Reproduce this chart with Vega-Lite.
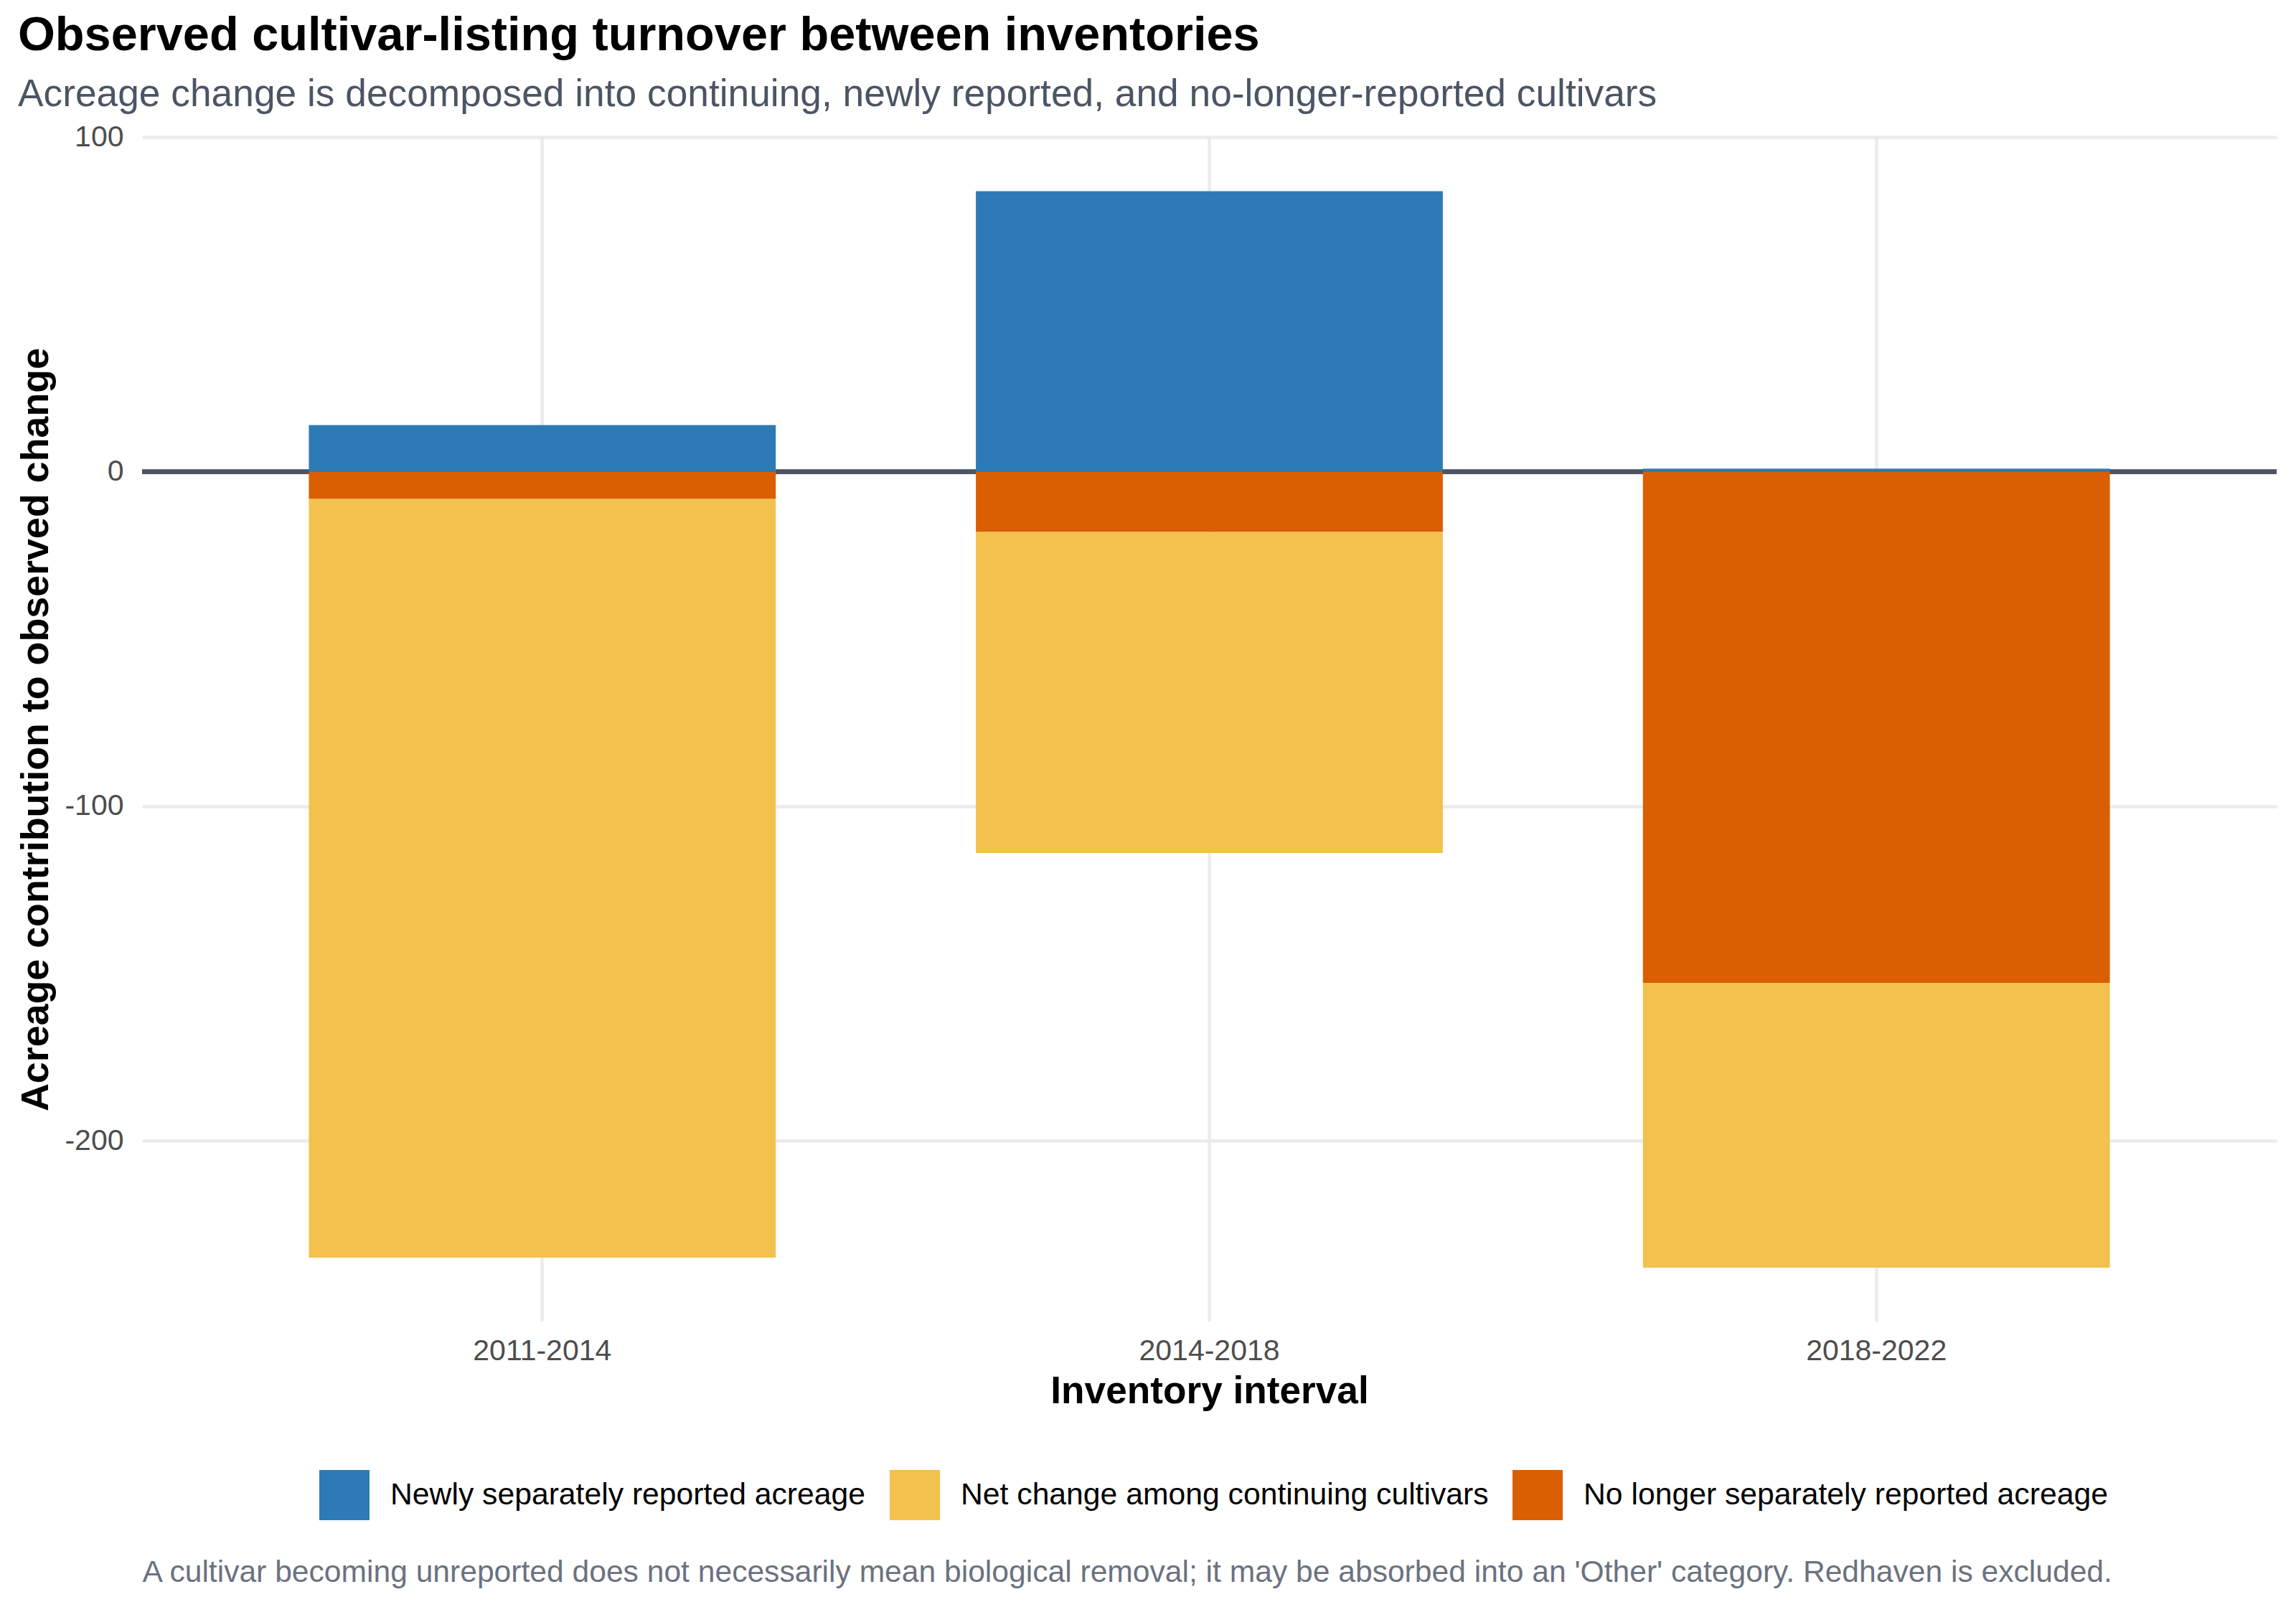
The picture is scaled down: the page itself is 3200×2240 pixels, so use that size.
{
  "$schema": "https://vega.github.io/schema/vega-lite/v6.json",
  "autosize": {"type": "none"},
  "padding": {"left": 198, "top": 191, "right": 27, "bottom": 398},
  "width": 2975,
  "height": 1651,
  "background": "#ffffff",
  "title": {
    "text": "Observed cultivar-listing turnover between inventories",
    "subtitle": "Acreage change is decomposed into continuing, newly reported, and no-longer-reported cultivars",
    "anchor": "start",
    "frame": "group",
    "dx": -173,
    "offset": 12,
    "fontSize": 66.7,
    "fontWeight": "bold",
    "color": "#000000",
    "subtitleFontSize": 53.3,
    "subtitleColor": "#4b5563",
    "subtitlePadding": 22
  },
  "data": {
    "values": [
      {"interval": "2011-2014", "component": "Newly separately reported acreage", "value": 13.9},
      {"interval": "2011-2014", "component": "Net change among continuing cultivars", "value": -226.8},
      {"interval": "2011-2014", "component": "No longer separately reported acreage", "value": -8.1},
      {"interval": "2014-2018", "component": "Newly separately reported acreage", "value": 83.8},
      {"interval": "2014-2018", "component": "Net change among continuing cultivars", "value": -96.0},
      {"interval": "2014-2018", "component": "No longer separately reported acreage", "value": -18.0},
      {"interval": "2018-2022", "component": "Newly separately reported acreage", "value": 0.9},
      {"interval": "2018-2022", "component": "Net change among continuing cultivars", "value": -85.1},
      {"interval": "2018-2022", "component": "No longer separately reported acreage", "value": -152.8}
    ]
  },
  "layer": [
    {
      "mark": {"type": "rule", "color": "#4b5563", "strokeWidth": 5.5},
      "encoding": {
        "y": {"datum": 0, "type": "quantitative"}
      }
    },
    {
      "mark": {"type": "bar"},
      "encoding": {
        "x": {
          "field": "interval",
          "type": "nominal",
          "scale": {"paddingInner": 0.3, "paddingOuter": 0.25},
          "axis": {
            "title": "Inventory interval",
            "labelAngle": 0,
            "labelLimit": 1000,
            "bandPosition": 0.5,
            "grid": true,
            "gridColor": "#ebebeb",
            "gridWidth": 4.5,
            "ticks": false,
            "domain": false,
            "labelFontSize": 41,
            "labelColor": "#4d4d4d",
            "labelPadding": 21,
            "titleFontSize": 53.2,
            "titleFontWeight": "bold",
            "titleColor": "#000000",
            "titlePadding": 10
          }
        },
        "y": {
          "field": "value",
          "type": "quantitative",
          "stack": "zero",
          "scale": {"domain": [-254, 100], "nice": false},
          "axis": {
            "title": "Acreage contribution to observed change",
            "values": [-200, -100, 0, 100],
            "labelExpr": "replace(datum.label, '\u2212', '-')",
            "grid": true,
            "gridColor": "#ebebeb",
            "gridWidth": 4.5,
            "ticks": false,
            "domain": false,
            "labelFontSize": 41,
            "labelColor": "#4d4d4d",
            "labelPadding": 26,
            "titleFontSize": 53.8,
            "titleFontWeight": "bold",
            "titleColor": "#000000",
            "titlePadding": 12
          }
        },
        "color": {
          "field": "component",
          "type": "nominal",
          "scale": {
            "domain": [
              "Newly separately reported acreage",
              "Net change among continuing cultivars",
              "No longer separately reported acreage"
            ],
            "range": ["#2c7bb6", "#f2c14e", "#d95f02"]
          },
          "legend": {
            "title": null,
            "orient": "none",
            "direction": "horizontal",
            "legendX": 247,
            "legendY": 1858,
            "symbolType": "square",
            "symbolSize": 4900,
            "symbolStrokeWidth": 0,
            "symbolOpacity": 1,
            "labelFontSize": 42.7,
            "labelColor": "#000000",
            "labelOffset": 29,
            "labelLimit": 2000,
            "columnPadding": 33,
            "padding": 0
          }
        },
        "order": {"field": "component", "sort": "descending"}
      }
    },
    {
      "mark": {"type": "point", "opacity": 0},
      "encoding": {
        "x": {
          "field": "interval",
          "type": "nominal",
          "axis": {
            "orient": "bottom",
            "title": "A cultivar becoming unreported does not necessarily mean biological removal; it may be absorbed into an 'Other' category. Redhaven is excluded.",
            "labels": false,
            "ticks": false,
            "domain": false,
            "grid": false,
            "titleAnchor": "start",
            "titleAlign": "left",
            "titleFontSize": 42.6,
            "titleFontWeight": "normal",
            "titleColor": "#6b7280",
            "titlePadding": 328
          }
        }
      }
    }
  ],
  "resolve": {"axis": {"x": "independent"}},
  "config": {
    "font": "Liberation Sans",
    "view": {"stroke": null}
  }
}
